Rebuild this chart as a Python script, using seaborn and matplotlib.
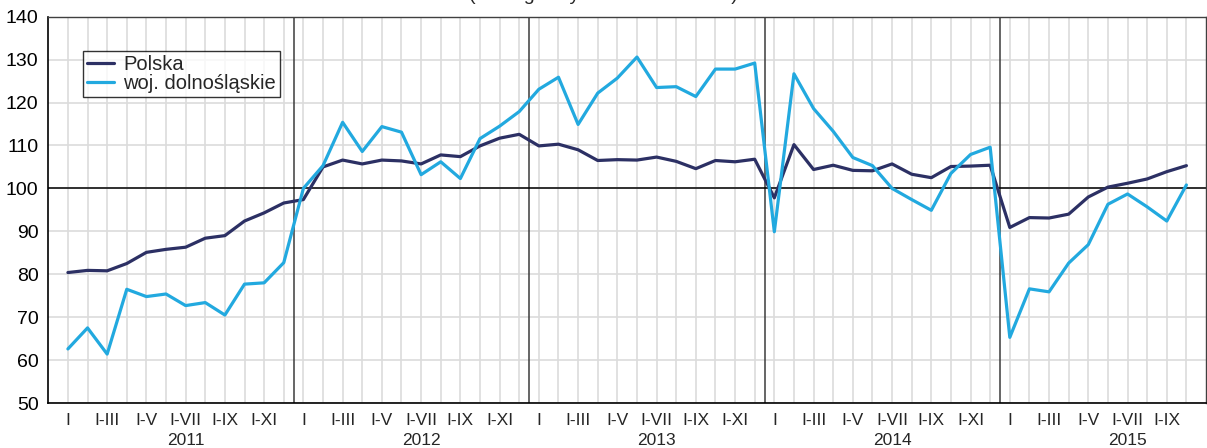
import numpy as np
import pandas as pd
import matplotlib
matplotlib.use("Agg")
import matplotlib.pyplot as plt
import seaborn as sns

# dane (analogiczny okres roku = 100), I 2011 - X 2015
years = ["2011", "2012", "2013", "2014", "2015"]
month_labels = ["I", "", "I-III", "", "I-V", "", "I-VII", "", "I-IX", "", "I-XI", ""]

polska = [
    80.4, 80.9, 80.8, 82.5, 85.1, 85.8, 86.3, 88.4, 89.0, 92.4, 94.3, 96.6,
    97.4, 105.0, 106.6, 105.7, 106.6, 106.4, 105.7, 107.8, 107.4, 109.9, 111.7, 112.6,
    109.9, 110.3, 109.0, 106.5, 106.7, 106.6, 107.3, 106.3, 104.6, 106.5, 106.2, 106.8,
    97.8, 110.2, 104.4, 105.4, 104.2, 104.1, 105.7, 103.3, 102.5, 105.1, 105.2, 105.4,
    90.9, 93.2, 93.1, 94.0, 98.0, 100.3, 101.2, 102.2, 103.9, 105.3,
]
dolnoslaskie = [
    62.6, 67.5, 61.4, 76.5, 74.8, 75.4, 72.7, 73.4, 70.5, 77.7, 78.0, 82.7,
    100.0, 105.3, 115.4, 108.6, 114.4, 113.1, 103.2, 106.2, 102.3, 111.6, 114.5, 117.9,
    123.1, 125.9, 114.9, 122.2, 125.7, 130.6, 123.5, 123.7, 121.4, 127.8, 127.8, 129.2,
    89.9, 126.7, 118.6, 113.3, 107.2, 105.3, 100.0, 97.4, 94.9, 103.5, 107.9, 109.6,
    65.3, 76.6, 75.9, 82.6, 86.9, 96.3, 98.7, 95.7, 92.4, 100.8,
]

n = len(polska)
df = pd.DataFrame({
    "idx": list(range(n)) * 2,
    "value": polska + dolnoslaskie,
    "seria": ["Polska"] * n + ["woj. dolnośląskie"] * n,
})

sns.set_style("white")
plt.rcParams["font.family"] = ["Liberation Sans", "DejaVu Sans"]

fig = plt.figure(figsize=(12.07, 4.48), dpi=100)
ax = fig.add_axes([0.040, 0.1004, 0.9592, 0.8623])

# siatka
for x in range(n):
    ax.axvline(x, color="#dcdcdc", lw=1.2, zorder=0)
for y in range(50, 141, 10):
    ax.axhline(y, color="#dcdcdc", lw=1.2, zorder=0)
for k in range(1, len(years)):
    ax.axvline(12 * k - 0.5, color="#3c3c3c", lw=1.1, zorder=1)
ax.axhline(100, color="black", lw=1.1, zorder=1)

sns.lineplot(data=df, x="idx", y="value", hue="seria",
             palette=["#2c3064", "#22a9df"], linewidth=2.3, ax=ax, zorder=3)

ax.set_xlim(-1, 58)
ax.set_ylim(50, 140)
ax.set_yticks(range(50, 141, 10))
ax.tick_params(axis="y", length=0, pad=7, labelsize=14, colors="black")

labels = [month_labels[i % 12] for i in range(n)]
ax.set_xticks(range(n))
ax.set_xticklabels(labels, fontsize=12.5)
ax.tick_params(axis="x", length=3, width=1, direction="out", pad=4, color="black")

for k, yr in enumerate(years):
    ax.text(12 * k + 6, -0.078, yr, transform=ax.get_xaxis_transform(),
            ha="center", va="top", fontsize=12.5)

ax.set_xlabel("")
ax.set_ylabel("")
for s in ["left", "bottom"]:
    ax.spines[s].set_color("black")
    ax.spines[s].set_linewidth(1.2)
for s in ["top", "right"]:
    ax.spines[s].set_color("#404040")
    ax.spines[s].set_linewidth(1.0)

leg = ax.legend(loc="upper left", bbox_to_anchor=(0.030, 0.911), fontsize=14.5,
                frameon=True, fancybox=False, handlelength=1.35, borderpad=0.2,
                labelspacing=0.0, handletextpad=0.45, borderaxespad=0)
leg.get_frame().set_edgecolor("black")
leg.get_frame().set_linewidth(1.0)
for line in leg.get_lines():
    line.set_linewidth(2.3)

fig.text(0.5, 1.0, "(analogiczny okres roku = 100)", ha="center", va="baseline",
         fontsize=14)

fig.savefig("out.png", dpi=100)
